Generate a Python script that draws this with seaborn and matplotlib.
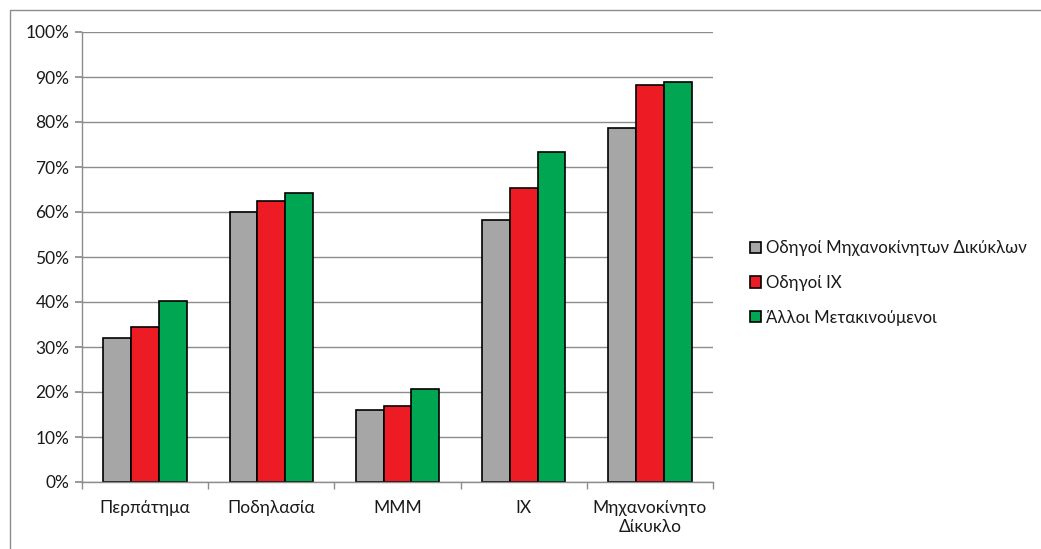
import matplotlib
matplotlib.use("Agg")
import matplotlib.pyplot as plt
import matplotlib.patches as mpatches
from matplotlib.ticker import PercentFormatter, FixedLocator
import seaborn as sns
import pandas as pd

categories = ["Περπάτημα", "Ποδηλασία", "ΜΜΜ", "ΙΧ", "Μηχανοκίνητο\nΔίκυκλο"]
series = ["Οδηγοί Μηχανοκίνητων Δικύκλων", "Οδηγοί ΙΧ", "Άλλοι Μετακινούμενοι"]
moto_drivers = [32.0, 60.1, 16.1, 58.2, 78.7]
car_drivers = [34.4, 62.4, 17.0, 65.4, 88.3]
others = [40.3, 64.2, 20.7, 73.3, 88.9]
colors = ["#A6A6A6", "#ED1C24", "#00A651"]

rows = []
for name, vals in zip(series, [moto_drivers, car_drivers, others]):
    for cat, v in zip(categories, vals):
        rows.append({"category": cat, "series": name, "value": v})
df = pd.DataFrame(rows)

sns.set_theme(style="white")
plt.rcParams["font.family"] = ["Lato", "DejaVu Sans"]

fig = plt.figure(figsize=(10.41, 5.49), dpi=100)
ax = fig.add_axes([82 / 1041, 1 - 482 / 549, (713 - 82) / 1041, (482 - 32) / 549])

sns.barplot(data=df, x="category", y="value", hue="series", palette=colors,
            order=categories, hue_order=series, width=0.66,
            edgecolor="black", linewidth=1.2, saturation=1, ax=ax, legend=False)

ax.set_ylim(0, 100)
ax.set_xlim(-0.5, len(categories) - 0.5)
ax.yaxis.set_major_locator(FixedLocator(range(0, 101, 10)))
ax.yaxis.set_major_formatter(PercentFormatter(decimals=0))
ax.grid(axis="y", color="#8C8C8C", linewidth=1)
ax.set_axisbelow(True)
ax.set_xlabel("")
ax.set_ylabel("")

for side in ["top", "right"]:
    ax.spines[side].set_visible(False)
for side in ["left", "bottom"]:
    ax.spines[side].set_color("#8C8C8C")
    ax.spines[side].set_linewidth(1)

ax.tick_params(axis="y", left=True, length=5, color="#8C8C8C", labelsize=12.5,
               labelcolor="#1a1a1a", pad=4)
ax.set_xticks(range(len(categories)))
ax.set_xticklabels(categories, fontsize=12.5, color="#1a1a1a")
ax.tick_params(axis="x", bottom=False, pad=7)
# separator ticks between category groups
ax.set_xticks([i - 0.5 for i in range(len(categories) + 1)], minor=True)
ax.tick_params(axis="x", which="minor", bottom=True, length=5, color="#8C8C8C")
for lbl in ax.get_xticklabels():
    lbl.set_linespacing(1.25)

handles = [mpatches.Patch(facecolor=c, edgecolor="black", linewidth=1.2) for c in colors]
leg = fig.legend(handles, series, loc="center left", bbox_to_anchor=(735 / 1041, 1 - 283 / 549),
                 frameon=False, fontsize=12.2, handlelength=0.65, handleheight=0.65,
                 handletextpad=0.3, labelspacing=1.1)
for t in leg.get_texts():
    t.set_color("#1a1a1a")

# outer chart border
fig.add_artist(mpatches.Rectangle((10 / 1041, -0.05), 1.1, 1 - 10 / 549 + 0.05,
                                  transform=fig.transFigure, fill=False,
                                  edgecolor="#8C8C8C", linewidth=1))

fig.savefig("out.png", dpi=100, facecolor="white")
